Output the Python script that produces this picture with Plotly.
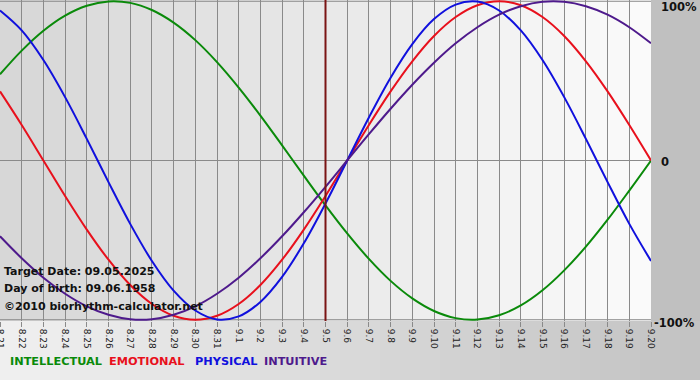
import plotly.graph_objects as go

days = ["8.21", "8.22", "8.23", "8.24", "8.25", "8.26", "8.27", "8.28", "8.29", "8.30", "8.31",
        "9.1", "9.2", "9.3", "9.4", "9.5", "9.6", "9.7", "9.8", "9.9", "9.10",
        "9.11", "9.12", "9.13", "9.14", "9.15", "9.16", "9.17", "9.18", "9.19", "9.20"]

intellectual = [0.541, 0.690, 0.815, 0.910, 0.972, 0.999, 0.990, 0.945, 0.866, 0.756, 0.618,
                0.458, 0.282, 0.095, -0.095, -0.282, -0.458, -0.618, -0.756, -0.866, -0.945,
                -0.990, -0.999, -0.972, -0.910, -0.815, -0.690, -0.541, -0.372, -0.189, 0.0]
emotional = [0.434, 0.223, 0.0, -0.223, -0.434, -0.623, -0.782, -0.901, -0.975, -1.0, -0.975,
             -0.901, -0.782, -0.623, -0.434, -0.223, 0.0, 0.223, 0.434, 0.623, 0.782,
             0.901, 0.975, 1.0, 0.975, 0.901, 0.782, 0.623, 0.434, 0.223, 0.0]
physical = [0.942, 0.817, 0.631, 0.398, 0.136, -0.136, -0.398, -0.631, -0.817, -0.942, -0.998,
            -0.979, -0.888, -0.731, -0.520, -0.270, 0.0, 0.270, 0.520, 0.731, 0.888,
            0.979, 0.998, 0.942, 0.817, 0.631, 0.398, 0.136, -0.136, -0.398, -0.631]
intuitive = [-0.476, -0.614, -0.736, -0.837, -0.916, -0.969, -0.997, -0.997, -0.969, -0.916, -0.837,
             -0.736, -0.614, -0.476, -0.325, -0.165, 0.0, 0.165, 0.325, 0.476, 0.614,
             0.736, 0.837, 0.916, 0.969, 0.997, 0.997, 0.969, 0.916, 0.837, 0.736]

target_day = "9.5"
info_lines = ["Target Date: 09.05.2025", "Day of birth: 09.06.1958", "\u00a92010 biorhythm-calculator.net"]
legend_names = ["INTELLECTUAL", "EMOTIONAL", "PHYSICAL", "INTUITIVE"]
colors = ["#0a8a0a", "#e8101c", "#1010dd", "#4e1a8c"]
series = [intellectual, emotional, physical, intuitive]

W, H = 700, 380
PL, PR, PT, PB = 0, 49, 0, 59
pw = W - PL - PR
ph = H - PT - PB

fig = go.Figure()

shapes = []
n = len(days) - 1
target_idx = days.index(target_day)


def mix(c0, c1, t):
    return "rgb(%d,%d,%d)" % tuple(round(a + (b - a) * t) for a, b in zip(c0, c1))


for k in range(n):
    shapes.append(dict(type="rect", xref="x", yref="paper", x0=k, x1=k + 1, y0=0, y1=1,
                       fillcolor=mix((214, 214, 214), (251, 251, 251), (k + 0.5) / n),
                       line=dict(width=0), layer="below"))
steps = 35
for k in range(steps):
    x0 = k / steps * W / pw
    x1 = (k + 1) / steps * W / pw
    shapes.append(dict(type="rect", xref="paper", yref="paper", x0=x0, x1=x1 + 0.002,
                       y0=-PB / ph, y1=0,
                       fillcolor=mix((240, 240, 240), (194, 194, 194), (k + 0.5) / steps),
                       line=dict(width=0), layer="below"))
for yv in (-1, 0, 1):
    shapes.append(dict(type="line", xref="paper", yref="y", x0=0, x1=1, y0=yv, y1=yv,
                       line=dict(color="#8a8a8a", width=1), layer="below"))
shapes.append(dict(type="line", xref="x", yref="paper", x0=target_idx, x1=target_idx, y0=0, y1=1,
                   line=dict(color="#7a1414", width=2)))

for name, vals, col in zip(legend_names, series, colors):
    fig.add_trace(go.Scatter(x=days, y=vals, mode="lines", name=name,
                             line=dict(color=col, width=2, shape="spline", smoothing=1.0),
                             hoverinfo="skip", showlegend=False))

annotations = []
for j, t in enumerate(info_lines):
    annotations.append(dict(text="<b>%s</b>" % t, xref="paper", yref="paper",
                            x=2 / pw, y=1 - (271 + j * 17.5) / ph, xanchor="left", yanchor="middle",
                            showarrow=False, font=dict(family="DejaVu Sans", size=11, color="#111111")))
legend_x = [8, 107, 193, 262]
for name, col, lx in zip(legend_names, colors, legend_x):
    annotations.append(dict(text="<b>%s</b>" % name, xref="paper", yref="paper",
                            x=lx / pw, y=1 - 361 / ph, xanchor="left", yanchor="middle",
                            showarrow=False, font=dict(family="DejaVu Sans", size=11.3, color=col)))
for txt, yv, px, ys in (("100%", 1, 659, -6), ("0", 0, 659, -1), ("-100%", -1, 652, -3)):
    annotations.append(dict(text="<b>%s</b>" % txt, xref="paper", yref="y",
                            x=px / pw, y=yv, xanchor="left", yanchor="middle", yshift=ys,
                            showarrow=False, font=dict(family="DejaVu Sans", size=11.5, color="#111111")))

fig.update_layout(
    width=W, height=H,
    margin=dict(l=PL, r=PR, t=PT, b=PB, pad=0),
    paper_bgcolor="#c0c0c0",
    plot_bgcolor="rgba(0,0,0,0)",
    shapes=shapes,
    annotations=annotations,
    xaxis=dict(type="category", range=[0, n], showgrid=True, gridcolor="#8a8a8a", gridwidth=1,
               ticks="outside", ticklen=5, tickcolor="#8a8a8a", tickangle=90,
               tickfont=dict(family="DejaVu Sans", size=9, color="#222222"),
               zeroline=False, showline=False, fixedrange=True, automargin=False),
    yaxis=dict(range=[-1.008, 1.008], showgrid=False, zeroline=False, showticklabels=False,
               showline=False, fixedrange=True, automargin=False),
    showlegend=False,
)

fig.write_html("out.html", config={"displayModeBar": False},
               post_script="document.body.style.margin='0';document.body.style.padding='0';")
